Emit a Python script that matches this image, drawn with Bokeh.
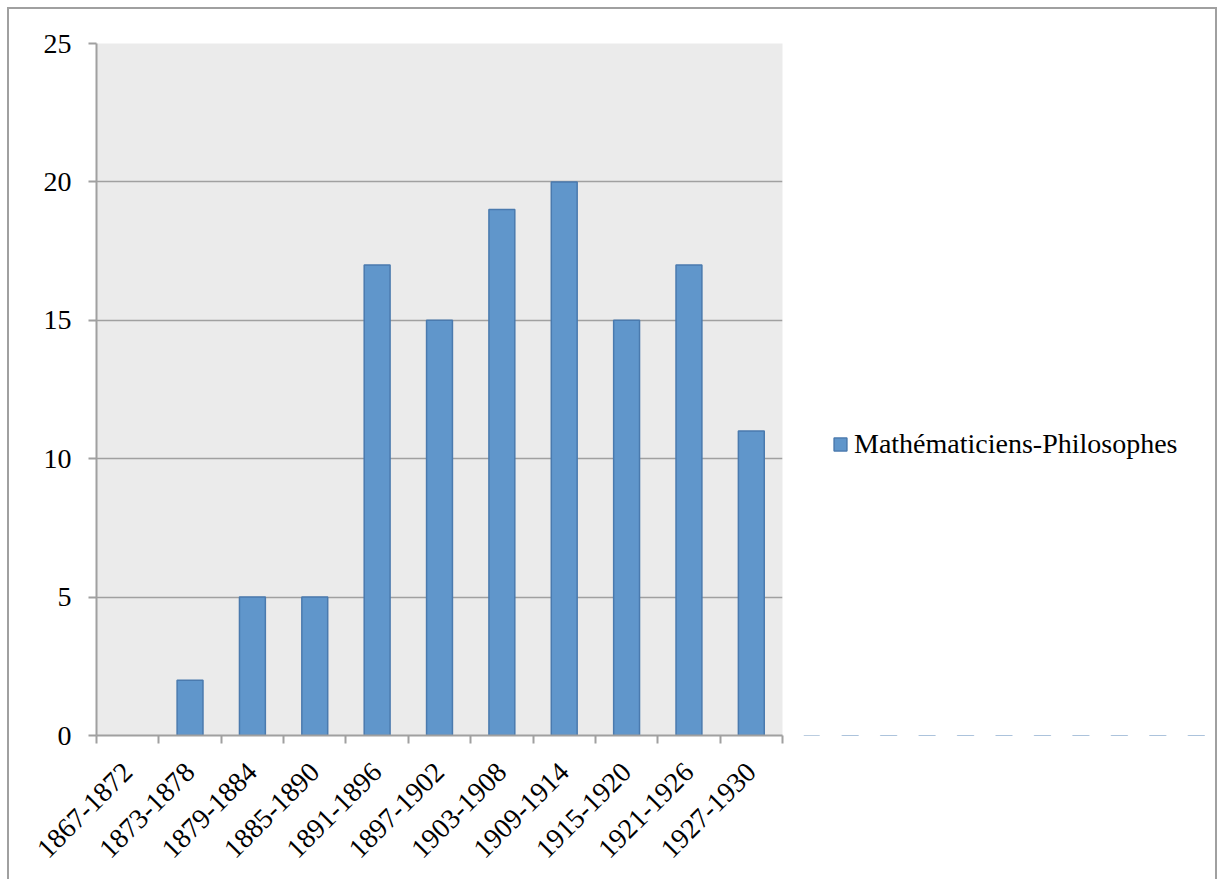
import math
from bokeh.plotting import figure
from bokeh.layouts import row
from bokeh.models import (FixedTicker, Legend, LegendItem, Range1d, ColumnDataSource,
                          BoxAnnotation)
from bokeh.embed import file_html
from bokeh.resources import INLINE

categories = ["1867-1872", "1873-1878", "1879-1884", "1885-1890", "1891-1896",
              "1897-1902", "1903-1908", "1909-1914", "1915-1920", "1921-1926",
              "1927-1930"]
values = [0, 2, 5, 5, 17, 15, 19, 20, 15, 17, 11]
series_name = "Mathématiciens-Philosophes"
y_ticks = [0, 5, 10, 15, 20, 25]

n = len(categories)
centers = [i + 0.5 for i in range(n)]
bounds = list(range(n + 1))

FONT = "Liberation Serif"
GRID = "#A0A0A0"
FILL = "#6096CB"
EDGE = "#4A7AAE"
BORDER = "2px solid #A0A0A0"

src = ColumnDataSource(dict(x=centers, top=values,
                            la=[0.0 if v == 0 else 1.0 for v in values]))

p = figure(width=783, height=870, output_backend="svg", toolbar_location=None,
           x_range=Range1d(0, n), y_range=Range1d(0, 25),
           min_border_left=87, min_border_right=10, min_border_top=34,
           min_border_bottom=144)
p.background_fill_color = "#EBEBEB"
p.border_fill_color = "white"
p.outline_line_alpha = 0

r = p.vbar(x="x", top="top", width=0.415, bottom=0, source=src,
           fill_color=FILL, line_color=EDGE, line_width=1.5,
           line_alpha="la")

p.xgrid.visible = False
p.ygrid.ticker = FixedTicker(ticks=y_ticks)
p.ygrid.grid_line_color = GRID
p.ygrid.grid_line_width = 1.5

ya = p.yaxis[0]
ya.ticker = FixedTicker(ticks=y_ticks)
ya.axis_line_color = GRID
ya.axis_line_width = 2
ya.major_tick_line_color = GRID
ya.major_tick_line_width = 2
ya.major_tick_out = 8
ya.major_tick_in = 0
ya.minor_tick_line_alpha = 0
ya.major_label_standoff = 17
ya.major_label_text_font = FONT
ya.major_label_text_font_size = "28px"
ya.major_label_text_color = "black"

xa = p.xaxis[0]
xa.ticker = FixedTicker(ticks=centers, minor_ticks=bounds)
xa.axis_line_color = GRID
xa.axis_line_width = 2
xa.major_tick_line_alpha = 0
xa.major_tick_out = 0
xa.major_tick_in = 0
xa.minor_tick_line_color = GRID
xa.minor_tick_line_width = 2
xa.minor_tick_out = 8
xa.minor_tick_in = 0
xa.major_label_overrides = {c: lab for c, lab in zip(centers, categories)}
xa.major_label_orientation = math.pi / 4
xa.major_label_standoff = 24
xa.major_label_text_font = FONT
xa.major_label_text_font_size = "28px"
xa.major_label_text_color = "black"

# legend panel: the series is drawn here only to feed the legend swatch,
# and a white box (drawn before the legend) hides its bars
p2 = figure(width=423, height=870, output_backend="svg", toolbar_location=None,
            x_range=Range1d(0, n), y_range=Range1d(0, 25),
            x_axis_type=None, y_axis_type=None,
            min_border_left=0, min_border_right=0, min_border_top=0,
            min_border_bottom=0)
p2.outline_line_alpha = 0
p2.xgrid.visible = False
p2.ygrid.visible = False
p2.background_fill_color = "white"
p2.border_fill_color = "white"
r2 = p2.vbar(x="x", top="top", width=0.415, source=src,
             fill_color=FILL, line_color=EDGE, line_width=1.5)
cover = BoxAnnotation(fill_color="white", fill_alpha=1.0, line_alpha=0,
                      level="guide")
p2.add_layout(cover)

legend = Legend(items=[LegendItem(label=series_name, renderers=[r2])],
                location=(40, 275), padding=0, margin=0,
                glyph_width=16, glyph_height=16, label_standoff=6,
                label_text_font=FONT, label_text_font_size="28px",
                label_text_color="black",
                border_line_alpha=0, background_fill_alpha=0)
p2.add_layout(legend)

layout = row(p, p2)
layout.styles = {"margin-left": "7px", "margin-top": "7px",
                 "border-left": BORDER, "border-top": BORDER,
                 "border-right": BORDER, "width": "1210px"}

open("out.html", "w").write(file_html(layout, INLINE))
